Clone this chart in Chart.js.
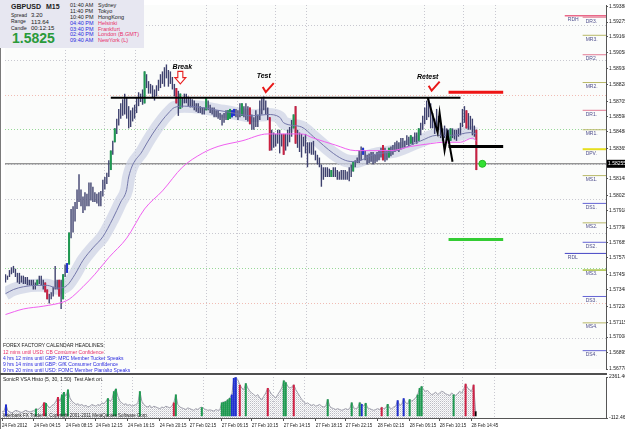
<!DOCTYPE html>
<html>
<head>
<meta charset="utf-8">
<script src="https://cdn.jsdelivr.net/npm/chart.js@4.4.1/dist/chart.umd.min.js"></script>
<style>
  body { margin: 0; width: 625px; height: 429px; overflow: hidden; position: relative; background: #fff; font-family: "Liberation Sans", Arial, sans-serif; }
  canvas { position: absolute; left: 0; }
  #main { top: 0; }
  #vol { top: 373px; }
  .t { position: absolute; white-space: nowrap; line-height: 1; }
  #info { position: absolute; left: 0; top: 0; width: 144px; height: 48px; background: #e7e7f1; }
  .d { color: #222; }
  .b { color: #2a2ae0; }
  .r { color: #e8306a; }
</style>
</head>
<body>
<canvas id="main" width="625" height="374"></canvas>
<canvas id="vol" width="625" height="56"></canvas>

<div id="info">
  <div class="t d" style="left:11px;top:2.6px;font-weight:bold;font-size:7px;">GBPUSD</div>
  <div class="t d" style="left:46px;top:2.6px;font-weight:bold;font-size:7px;">M15</div>
  <div class="t d" style="left:11px;top:12.5px;font-size:5px;">Spread</div>
  <div class="t d" style="left:31px;top:12px;font-size:6px;">3.20</div>
  <div class="t d" style="left:11px;top:19px;font-size:5px;">Range</div>
  <div class="t d" style="left:31px;top:18.6px;font-size:6px;">113.64</div>
  <div class="t d" style="left:11px;top:25.5px;font-size:5px;">Candle</div>
  <div class="t d" style="left:31px;top:25px;font-size:6px;">00:12:15</div>
  <div class="t" style="left:12px;top:31px;font-weight:bold;font-size:14px;color:#2a9a3a;">1.5825</div>

  <div class="t d" style="left:70px;top:3.3px;font-size:5.5px;">01:40 AM</div>
  <div class="t d" style="left:70px;top:9.3px;font-size:5.5px;">11:40 PM</div>
  <div class="t d" style="left:70px;top:14.8px;font-size:5.5px;">10:40 PM</div>
  <div class="t b" style="left:70px;top:20.8px;font-size:5.5px;">04:40 PM</div>
  <div class="t b" style="left:70px;top:26.8px;font-size:5.5px;">03:40 PM</div>
  <div class="t b" style="left:70px;top:32.3px;font-size:5.5px;">02:40 PM</div>
  <div class="t b" style="left:70px;top:38.3px;font-size:5.5px;">09:40 AM</div>
  <div class="t d" style="left:98px;top:3.3px;font-size:5.5px;">Sydney</div>
  <div class="t d" style="left:98px;top:9.3px;font-size:5.5px;">Tokyo</div>
  <div class="t d" style="left:98px;top:14.8px;font-size:5.5px;">HongKong</div>
  <div class="t r" style="left:98px;top:20.8px;font-size:5.5px;">Helsinki</div>
  <div class="t r" style="left:98px;top:26.8px;font-size:5.5px;">Frankfurt</div>
  <div class="t r" style="left:98px;top:32.3px;font-size:5.5px;">London (B.GMT)</div>
  <div class="t r" style="left:98px;top:38.3px;font-size:5.5px;">NewYork (L)</div>
</div>

<div class="t d" style="left:3px;top:342.5px;font-size:5px;">FOREX FACTORY CALENDAR HEADLINES:</div>
<div class="t r" style="left:3px;top:349.5px;font-size:5px;">12 mins until USD: CB Consumer Confidence</div>
<div class="t b" style="left:3px;top:355.5px;font-size:5px;">4 hrs 12 mins until GBP: MPC Member Tucker Speaks</div>
<div class="t b" style="left:3px;top:361.5px;font-size:5px;">9 hrs 14 mins until GBP: GfK Consumer Confidence</div>
<div class="t b" style="left:3px;top:367.5px;font-size:5px;">9 hrs 20 mins until USD: FOMC Member Pianalto Speaks</div>

<div class="t d" style="left:3px;top:376.5px;font-size:5px;">SonicR VSA Histo (5, 30, 1.50)&nbsp;&nbsp;Test Alert on.</div>
<div class="t d" style="left:3px;top:413.8px;font-size:4.5px;">Interbank FX Trader 4, Copyright 2001-2011 MetaQuotes Software Corp.</div>

<script>
// ---- price bars (M15), one entry per bar ----
const highs = [
  1.5746,1.5745,1.5749,1.5751,1.5752,1.5750,1.5747,1.5747,1.5745,1.5745,
  1.5744,1.5744,1.5742,1.5742,1.5742,1.5740,1.5742,1.5745,1.5745,1.5742,
  1.5740,1.5735,1.5732,1.5733,1.5737,1.5752,1.5742,1.5742,1.5742,1.5746,
  1.5753,1.5754,1.5776,1.5793,1.5795,1.5798,1.5807,1.5818,1.5807,1.5802,
  1.5805,1.5804,1.5812,1.5812,1.5809,1.5805,1.5804,1.5805,1.5806,1.5814,
  1.5816,1.5819,1.5828,1.5835,1.5842,1.5851,1.5858,1.5865,1.5869,1.5872,
  1.5876,1.5873,1.5867,1.5864,1.5866,1.5868,1.5873,1.5877,1.5876,1.5879,
  1.5892,1.5890,1.5885,1.5883,1.5882,1.5879,1.5882,1.5886,1.5890,1.5892,
  1.5895,1.5897,1.5893,1.5892,1.5888,1.5883,1.5880,1.5878,1.5876,1.5873,
  1.5876,1.5876,1.5874,1.5873,1.5872,1.5871,1.5869,1.5869,1.5867,1.5866,
  1.5866,1.5873,1.5871,1.5868,1.5866,1.5866,1.5864,1.5864,1.5862,1.5861,
  1.5862,1.5864,1.5864,1.5865,1.5864,1.5865,1.5865,1.5864,1.5869,1.5869,
  1.5867,1.5869,1.5867,1.5866,1.5861,1.5859,1.5864,1.5861,1.5871,1.5873,
  1.5874,1.5871,1.5866,1.5859,1.5850,1.5848,1.5847,1.5850,1.5850,1.5847,
  1.5847,1.5847,1.5850,1.5852,1.5857,1.5861,1.5867,1.5850,1.5848,1.5847,
  1.5845,1.5847,1.5841,1.5841,1.5841,1.5842,1.5835,1.5832,1.5830,1.5825,
  1.5823,1.5823,1.5823,1.5822,1.5821,1.5823,1.5823,1.5821,1.5820,1.5821,
  1.5821,1.5821,1.5820,1.5823,1.5825,1.5827,1.5828,1.5830,1.5835,1.5838,
  1.5837,1.5835,1.5832,1.5833,1.5834,1.5834,1.5832,1.5834,1.5835,1.5837,
  1.5839,1.5837,1.5835,1.5837,1.5838,1.5839,1.5841,1.5842,1.5841,1.5844,
  1.5844,1.5842,1.5846,1.5845,1.5846,1.5845,1.5848,1.5848,1.5851,1.5855,
  1.5860,1.5866,1.5871,1.5873,1.5869,1.5862,1.5858,1.5865,1.5860,1.5855,
  1.5851,1.5853,1.5851,1.5850,1.5851,1.5851,1.5850,1.5850,1.5851,1.5855,
  1.5865,1.5867,1.5864,1.5862,1.5860,1.5858,1.5853,1.5850
];
const lows = [
  1.5740,1.5742,1.5744,1.5746,1.5747,1.5744,1.5740,1.5739,1.5740,1.5739,
  1.5739,1.5738,1.5738,1.5738,1.5735,1.5735,1.5738,1.5739,1.5738,1.5735,
  1.5733,1.5728,1.5725,1.5728,1.5730,1.5735,1.5735,1.5730,1.5721,1.5728,
  1.5744,1.5747,1.5753,1.5772,1.5776,1.5784,1.5793,1.5798,1.5795,1.5790,
  1.5792,1.5795,1.5795,1.5799,1.5798,1.5798,1.5797,1.5795,1.5795,1.5802,
  1.5807,1.5811,1.5816,1.5821,1.5832,1.5841,1.5847,1.5853,1.5858,1.5860,
  1.5861,1.5858,1.5851,1.5852,1.5856,1.5858,1.5862,1.5867,1.5870,1.5868,
  1.5869,1.5880,1.5876,1.5876,1.5873,1.5871,1.5874,1.5878,1.5880,1.5883,
  1.5881,1.5887,1.5881,1.5883,1.5879,1.5874,1.5869,1.5860,1.5865,1.5866,
  1.5869,1.5869,1.5867,1.5866,1.5866,1.5864,1.5863,1.5862,1.5862,1.5861,
  1.5861,1.5864,1.5864,1.5862,1.5861,1.5859,1.5859,1.5858,1.5857,1.5853,
  1.5855,1.5857,1.5857,1.5858,1.5859,1.5860,1.5859,1.5857,1.5859,1.5860,
  1.5859,1.5857,1.5856,1.5854,1.5850,1.5850,1.5852,1.5852,1.5857,1.5861,
  1.5864,1.5861,1.5857,1.5835,1.5835,1.5837,1.5838,1.5840,1.5833,1.5838,
  1.5832,1.5835,1.5838,1.5841,1.5845,1.5851,1.5840,1.5837,1.5834,1.5830,
  1.5838,1.5833,1.5823,1.5833,1.5832,1.5832,1.5828,1.5825,1.5823,1.5809,
  1.5814,1.5816,1.5816,1.5816,1.5816,1.5816,1.5816,1.5814,1.5814,1.5814,
  1.5814,1.5814,1.5814,1.5813,1.5816,1.5820,1.5823,1.5826,1.5826,1.5828,
  1.5832,1.5828,1.5825,1.5826,1.5827,1.5825,1.5826,1.5827,1.5828,1.5830,
  1.5828,1.5827,1.5828,1.5830,1.5831,1.5832,1.5834,1.5835,1.5834,1.5836,
  1.5837,1.5837,1.5839,1.5838,1.5840,1.5839,1.5841,1.5840,1.5842,1.5846,
  1.5850,1.5854,1.5857,1.5859,1.5851,1.5851,1.5847,1.5851,1.5850,1.5844,
  1.5842,1.5844,1.5842,1.5840,1.5842,1.5844,1.5843,1.5842,1.5845,1.5846,
  1.5852,1.5855,1.5851,1.5850,1.5850,1.5846,1.5845,1.5821
];
// bars the VSA indicator paints
const greenBars = [16,29,32,53,55,70,88,101,112,113,119,145,164,175,193,204,208,224];
const redBars = [20,21,27,86,123,133,140,146,190,232,237];
const blueBars = [31,114,115,180];

// moving averages (read at a few bars)
const fastMaBar = [0,4,9,16,21,26,31,35,39,44,49,54,58,61,62,69,74,79,82,85,90,99,107,115,124,132,138,140,149,155,165,171,176,185,197,209,217,225,234,237];
const fastMaPrice = [1.5732,1.5735,1.5737,1.5738,1.5738,1.5736,1.5738,1.5746,1.5756,1.5765,1.5773,1.5786,1.5798,1.5807,1.5816,1.5835,1.5847,1.5857,1.5862,1.5866,1.5867,1.5866,1.5864,1.5862,1.5860,1.5861,1.5859,1.5855,1.5852,1.5845,1.5833,1.5828,1.5827,1.5832,1.5835,1.5842,1.5846,1.5846,1.5848,1.5847];
const slowMaBar = [0,9,19,29,32,39,45,52,61,70,79,89,99,107,119,132,149,155,166,176,186,194,204,214,220,229,235,237];
const slowMaPrice = [1.5717,1.5721,1.5723,1.5726,1.5728,1.5737,1.5746,1.5758,1.5772,1.5793,1.5806,1.5823,1.5833,1.5838,1.5842,1.5847,1.5847,1.5844,1.5839,1.5835,1.5835,1.5835,1.5838,1.5840,1.5841,1.5841,1.5844,1.5842];

// volume histogram
const volumes = [
  250,300,700,300,250,200,280,350,300,250,
  220,300,350,280,250,300,330,450,400,500,
  600,820,800,600,500,650,700,900,1150,900,
  1300,1450,1200,1600,1100,900,800,700,750,650,
  700,600,650,550,600,700,650,600,700,650,
  800,750,900,1080,900,1000,1500,1650,1200,900,
  800,700,750,650,700,600,650,700,800,1500,
  900,700,600,550,650,500,600,550,500,450,
  550,500,600,550,500,600,830,1300,700,550,
  500,450,400,500,450,400,350,450,400,500,
  540,450,400,350,380,350,300,400,350,380,
  830,850,900,1000,1100,1300,2300,2350,2200,1900,
  1700,1600,1980,1700,1500,1400,1300,1200,1300,1100,
  1000,1200,1400,1700,1500,1300,1200,1100,1300,1500,
  1700,2150,2050,1800,1700,1750,1900,1600,1400,1200,
  1000,900,750,800,700,650,700,600,650,700,
  600,550,600,1020,600,500,450,400,450,400,
  350,400,450,400,450,830,500,450,500,830,
  730,600,800,500,450,400,350,400,450,400,
  540,450,500,730,500,450,550,600,960,650,
  700,1080,800,750,1020,900,1000,1100,1300,1700,
  1800,1600,1500,1550,1400,1300,1350,1450,1300,1400,
  1500,1450,1350,1300,1250,1400,1300,1250,1350,1500,
  1400,1600,1950,1700,1600,1500,1900,300
];
const volGreen = [17,22,30,31,33,53,56,57,69,87,100,110,111,112,113,114,122,141,142,163,175,179,182,193,204,208,209,210,226];
const volRed = [21,28,86,119,133,146,190,232,236];
const volBlue = [2,115,116,117,180,198,201];
const volBlack = [237];
const volMin = -112.46, volMax = 2361.46;

// axes
const priceMin = 1.56778, priceMax = 1.59398;
const priceTicks = [1.59388,1.59275,1.59168,1.59058,1.58938,1.58828,1.58705,1.58598,1.58488,1.58365,1.58148,1.58025,1.57918,1.57798,1.57685,1.57578,1.57458,1.57348,1.57228,1.57115,1.57008,1.56895,1.56778];
const gridPrices = [1.5925,1.5900,1.5875,1.5850,1.5825,1.5800,1.5775,1.5750,1.5725,1.5700];
const pinkLevels = [1.5875,1.5725];
const greenLevels = [1.5850,1.5750];
const gridBars = [30,50,65.5,101,117,136,151.5,211,230.5,246.5];
const dateIdx = [0,16,32,47,63,79,94,110,125,141,157,172,188,204,219,235];
const dateLabels = ['24 Feb 2012','24 Feb 04:15','24 Feb 08:15','24 Feb 12:15','24 Feb 16:15','24 Feb 20:15','27 Feb 02:15','27 Feb 06:15','27 Feb 10:15','27 Feb 14:15','27 Feb 18:15','27 Feb 22:15','28 Feb 02:15','28 Feb 06:15','28 Feb 10:15','28 Feb 14:45'];
const bid = 1.58255;
const bidLabel = '1.58255';

// pivot levels on the right edge
const pivotNames = ['RDH','DR3.','MR3.','DR2.','MR2.','DR1.','MR1.','DPV.','MS1.','DS1.','MS2.','DS2.','RDL','MS3.','DS3.','MS4.','DS4.'];
const pivotPrices = [1.5932,1.5931,1.5918,1.5904,1.5884,1.5864,1.5850,1.5836,1.5817,1.5797,1.5783,1.5769,1.5761,1.5749,1.5730,1.5711,1.5691];

// hand drawn objects
const lineFrom = [53,223,223,223];
const lineTo = [229,250.5,250.5,250.5];
const linePrice = [1.5873,1.5877,1.5838,1.5771];
const zigBar = [212.5,217.5,218.5,221,222.5,225];
const zigPrice = [1.5873,1.5848,1.5862,1.5835,1.5847,1.5827];
const noteText = ['Break','Test','Retest'];
const noteBar = [89,130,212.5];
const notePrice = [1.5895,1.5889,1.5888];
const arrowBar = 88, arrowTop = 1.5892, arrowBottom = 1.5883;
const checkBar = [132,215.5];
const checkPrice = [1.5880,1.5881];
const dotBar = 240;

const FONT = '"Liberation Sans", Arial, sans-serif';
const xMin = -0.25, xMax = 302.25;

function barsFor(idx) {
  return idx.map(i => ({x: i, y: [lows[i], highs[i]]}));
}
function volFor(idx) {
  return idx.map(i => ({x: i, y: volumes[i]}));
}
function near(list, v) {
  return list.some(p => Math.abs(p - v) < 1e-6);
}
function pivotColor(name) {
  if (name === 'RDH') return '#e02050';
  if (name === 'RDL') return '#4444c4';
  if (name === 'DPV.') return '#e6de1e';
  if (name === 'MS3.') return '#a8c040';
  if (name.startsWith('DR')) return '#e27a94';
  if (name.startsWith('DS')) return '#6464d4';
  return '#b8b868';
}

const backdrop = {
  id: 'backdrop',
  beforeDraw(chart) {
    const {ctx, chartArea: a} = chart;
    ctx.save();
    ctx.fillStyle = '#fbfcfb';
    ctx.fillRect(a.left, a.top, a.right - a.left, a.bottom - a.top);
    ctx.fillStyle = '#7a7a7a';
    ctx.fillRect(0, 0, 1, chart.height);
    if (chart.canvas.id === 'vol') {
      ctx.fillStyle = '#505050';
      ctx.fillRect(0, 0, a.right + 1, 2);
    }
    ctx.restore();
  }
};

const overlay = {
  id: 'overlay',
  afterDatasetsDraw(chart) {
    const {ctx, chartArea: a} = chart;
    const x = chart.scales.x, y = chart.scales.y;
    ctx.save();

    // notes
    ctx.font = 'italic bold 7px ' + FONT;
    ctx.fillStyle = '#000';
    ctx.textAlign = 'center';
    ctx.textBaseline = 'middle';
    noteText.forEach((t, k) => ctx.fillText(t, x.getPixelForValue(noteBar[k]), y.getPixelForValue(notePrice[k])));

    // down arrow
    const cx = x.getPixelForValue(arrowBar);
    const ty = y.getPixelForValue(arrowTop), by = y.getPixelForValue(arrowBottom);
    const hy = ty + (by - ty) * 0.5;
    ctx.beginPath();
    ctx.moveTo(cx - 2.5, ty); ctx.lineTo(cx + 2.5, ty); ctx.lineTo(cx + 2.5, hy);
    ctx.lineTo(cx + 5.5, hy); ctx.lineTo(cx, by); ctx.lineTo(cx - 5.5, hy);
    ctx.lineTo(cx - 2.5, hy); ctx.closePath();
    ctx.fillStyle = '#fff'; ctx.fill();
    ctx.strokeStyle = '#e82020'; ctx.lineWidth = 1.1; ctx.stroke();

    // check marks
    ctx.strokeStyle = '#e81818';
    ctx.lineWidth = 2;
    ctx.lineJoin = 'miter';
    checkBar.forEach((b, k) => {
      const px = x.getPixelForValue(b), py = y.getPixelForValue(checkPrice[k]);
      ctx.beginPath();
      ctx.moveTo(px - 5, py - 1);
      ctx.lineTo(px - 2, py + 4);
      ctx.lineTo(px + 6, py - 5);
      ctx.stroke();
    });

    // pivot labels
    ctx.font = '5px ' + FONT;
    ctx.fillStyle = '#4e4e8c';
    ctx.textAlign = 'left';
    ctx.textBaseline = 'top';
    pivotNames.forEach((n, k) => {
      const start = (n === 'RDH' || n === 'RDL') ? 281.5 : 290.5;
      ctx.fillText(n, x.getPixelForValue(start) + 3, y.getPixelForValue(pivotPrices[k]) + 1.5);
    });

    // bid price tag on the axis
    const yb = y.getPixelForValue(bid);
    ctx.fillStyle = '#000';
    ctx.fillRect(a.right + 1, yb - 4, 19, 8);
    ctx.fillStyle = '#fff';
    ctx.textBaseline = 'middle';
    ctx.fillText(bidLabel, a.right + 2, yb);
    ctx.restore();
  }
};

const datasets = [];
// hand drawn lines
lineFrom.forEach((f, k) => {
  datasets.push({
    type: 'line', order: 0,
    data: [{x: f, y: linePrice[k]}, {x: lineTo[k], y: linePrice[k]}],
    borderColor: ['#000', '#ee1414', '#000', '#33cc33'][k],
    borderWidth: [2, 3, 3, 3][k],
    pointRadius: 0
  });
});
datasets.push({
  type: 'line', order: 0,
  data: zigBar.map((b, k) => ({x: b, y: zigPrice[k]})),
  borderColor: '#000', borderWidth: 2, pointRadius: 0, borderJoinStyle: 'miter'
});
datasets.push({
  type: 'line', order: 0, showLine: false,
  data: [{x: dotBar, y: bid}],
  pointRadius: 3.5, pointBackgroundColor: '#33e033', pointBorderColor: '#22bb22', pointBorderWidth: 1
});
// moving averages
datasets.push({
  type: 'line', order: 1,
  data: slowMaBar.map((b, k) => ({x: b, y: slowMaPrice[k]})),
  borderColor: '#f060f0', borderWidth: 1, pointRadius: 0, cubicInterpolationMode: 'monotone'
});
datasets.push({
  type: 'line', order: 2,
  data: fastMaBar.map((b, k) => ({x: b, y: fastMaPrice[k]})),
  borderColor: '#7478aa', borderWidth: 1, pointRadius: 0, cubicInterpolationMode: 'monotone'
});
// price bars
[[greenBars, '#1e9a50'], [redBars, '#cc2040'], [blueBars, '#2232d0']].forEach(([idx, col]) => {
  datasets.push({
    type: 'bar', order: 3, grouped: false,
    data: barsFor(idx),
    backgroundColor: col, barThickness: 2, inflateAmount: 0
  });
});
datasets.push({
  type: 'bar', order: 4, grouped: false,
  data: barsFor(highs.map((h, i) => i)),
  backgroundColor: '#3e416e', barThickness: 1.4, inflateAmount: 0
});
// band around the fast average
datasets.push({
  type: 'line', order: 5, clip: 0,
  data: fastMaBar.map((b, k) => ({x: b, y: fastMaPrice[k]})),
  borderColor: 'rgba(204,209,228,0.7)', borderWidth: 13, pointRadius: 0,
  cubicInterpolationMode: 'monotone', borderCapStyle: 'butt'
});
// pivot stubs
pivotNames.forEach((n, k) => {
  const wide = (n === 'RDH' || n === 'RDL');
  datasets.push({
    type: 'line', order: 6,
    data: [{x: wide ? 281.5 : 290.5, y: pivotPrices[k]}, {x: xMax, y: pivotPrices[k]}],
    borderColor: pivotColor(n),
    borderWidth: (n === 'DPV.') ? 2 : (n === 'MS3.' ? 1.5 : 1),
    pointRadius: 0
  });
});
// bid line
datasets.push({
  type: 'line', order: 7,
  data: [{x: xMin, y: bid}, {x: xMax, y: bid}],
  borderColor: '#6a6a6a', borderWidth: 1, pointRadius: 0
});

new Chart(document.getElementById('main'), {
  type: 'line',
  data: {datasets},
  options: {
    responsive: false,
    animation: false,
    events: [],
    layout: {padding: {left: 1, top: 1, right: 0, bottom: 1}},
    plugins: {legend: {display: false}, tooltip: {enabled: false}},
    scales: {
      x: {
        type: 'linear', min: xMin, max: xMax, offset: false,
        afterBuildTicks: s => { s.ticks = gridBars.map(v => ({value: v})); },
        afterFit: s => { s.height = 0; },
        ticks: {display: false},
        grid: {color: '#c8c8d0', drawTicks: false, borderDash: [1, 2], offset: false},
        border: {display: false, dash: [1, 2]}
      },
      yg: {
        type: 'linear', position: 'left', min: priceMin, max: priceMax,
        afterBuildTicks: s => { s.ticks = gridPrices.map(v => ({value: v})); },
        afterFit: s => { s.width = 0; },
        ticks: {display: false},
        grid: {
          drawTicks: false, borderDash: [1, 2],
          color: c => near(pinkLevels, c.tick.value) ? '#f0bcb4' : (near(greenLevels, c.tick.value) ? '#96d896' : '#c8c8d0')
        },
        border: {display: false, dash: [1, 2]}
      },
      y: {
        type: 'linear', position: 'right', min: priceMin, max: priceMax,
        afterBuildTicks: s => { s.ticks = priceTicks.map(v => ({value: v})); },
        afterFit: s => { s.width = 19; },
        ticks: {
          autoSkip: false, padding: 1, color: '#222',
          font: {size: 5, family: FONT},
          callback: v => Number(v).toFixed(5)
        },
        grid: {display: true, drawOnChartArea: false, drawTicks: true, tickLength: 2, color: '#555'},
        border: {display: true, color: '#555', width: 1}
      }
    }
  },
  plugins: [backdrop, overlay]
});

// ---- volume window ----
const pc = document.createElement('canvas');
pc.width = 2; pc.height = 2;
const pctx = pc.getContext('2d');
pctx.fillStyle = '#bcbcc4'; pctx.fillRect(0, 0, 1, 1);
pctx.fillStyle = '#dcdce2'; pctx.fillRect(1, 1, 1, 1);
const volCanvas = document.getElementById('vol');
const volPattern = volCanvas.getContext('2d').createPattern(pc, 'repeat');

const volSets = [];
[[volGreen, '#1e9a50'], [volRed, '#d02044'], [volBlue, '#2030d0'], [volBlack, '#000']].forEach(([idx, col]) => {
  volSets.push({
    type: 'bar', order: 1, grouped: false,
    data: volFor(idx),
    backgroundColor: col, barThickness: 2, inflateAmount: 0
  });
});
volSets.push({
  type: 'line', order: 2,
  data: volumes.map((v, i) => ({x: i, y: v})),
  borderColor: '#a0a0ac', borderWidth: 1, pointRadius: 0,
  fill: 'start', backgroundColor: volPattern
});

new Chart(volCanvas, {
  type: 'line',
  data: {datasets: volSets},
  options: {
    responsive: false,
    animation: false,
    events: [],
    layout: {padding: {left: 1, top: 3, right: 0, bottom: 0}},
    plugins: {legend: {display: false}, tooltip: {enabled: false}},
    scales: {
      x: {
        type: 'linear', min: xMin, max: xMax, offset: false,
        afterBuildTicks: s => { s.ticks = dateIdx.map(v => ({value: v})); },
        afterFit: s => { s.height = 11; },
        ticks: {
          autoSkip: false, maxRotation: 0, align: 'start', padding: 2, color: '#222',
          font: {size: 4.5, family: FONT},
          callback: v => dateLabels[dateIdx.indexOf(v)]
        },
        grid: {drawOnChartArea: false, drawTicks: true, tickLength: 3, color: '#555', offset: false},
        border: {display: true, color: '#555', width: 1}
      },
      xg: {
        type: 'linear', position: 'bottom', min: xMin, max: xMax, offset: false,
        afterBuildTicks: s => { s.ticks = gridBars.map(v => ({value: v})); },
        afterFit: s => { s.height = 0; },
        ticks: {display: false},
        grid: {color: '#c8c8d0', drawTicks: false, borderDash: [1, 2], offset: false},
        border: {display: false, dash: [1, 2]}
      },
      y: {
        type: 'linear', position: 'right', min: volMin, max: volMax,
        afterBuildTicks: s => { s.ticks = [{value: volMax}, {value: volMin}]; },
        afterFit: s => { s.width = 19; },
        ticks: {
          autoSkip: false, padding: 1, color: '#222',
          font: {size: 5, family: FONT},
          callback: v => Number(v).toFixed(2)
        },
        grid: {display: true, drawOnChartArea: false, drawTicks: true, tickLength: 2, color: '#555'},
        border: {display: true, color: '#555', width: 1}
      }
    }
  },
  plugins: [backdrop]
});
</script>
</body>
</html>
